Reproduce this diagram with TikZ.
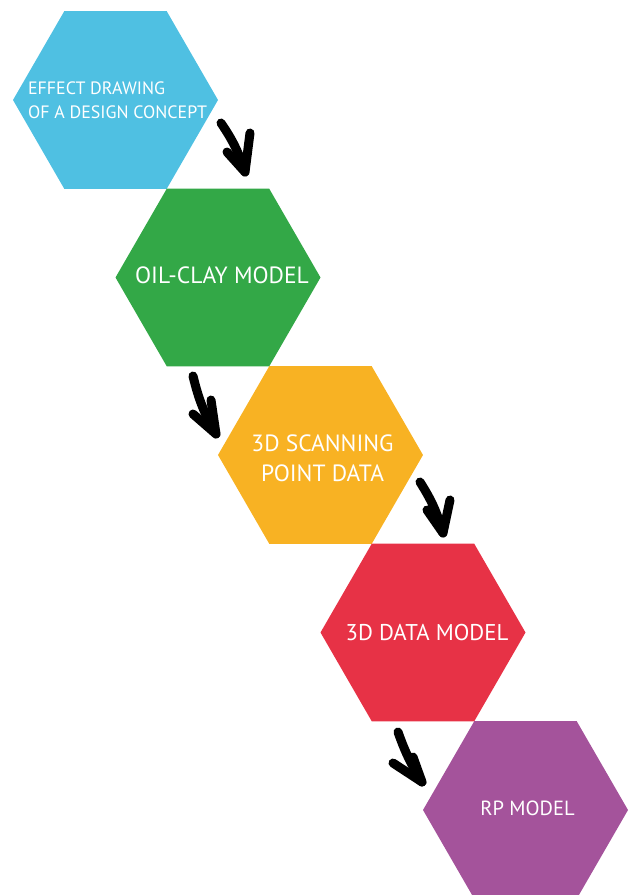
\documentclass[tikz,border=0pt]{standalone}
\usepackage{fontspec}
\setmainfont{PT Sans}
\usetikzlibrary{shapes.geometric}

\definecolor{conceptblue}{RGB}{79,192,226}
\definecolor{claygreen}{RGB}{51,168,71}
\definecolor{scanorange}{RGB}{248,178,35}
\definecolor{datared}{RGB}{231,50,70}
\definecolor{rppurple}{RGB}{164,83,155}

\begin{document}
\begin{tikzpicture}[x=1pt,y=1pt,
  hexa/.style={regular polygon,regular polygon sides=6,minimum size=205pt,inner sep=0pt},
  caption/.style={text=white,align=center,inner sep=0pt,font=\fontsize{23.5}{30}\selectfont},
  scrawl/.style={line width=9pt,line cap=round,line join=round,black}]
\useasboundingbox (0,0) rectangle (629,-895);

\node[hexa,fill=conceptblue] (effect) at (115.5,-100) {};
\node[hexa,fill=claygreen] (clay) at (218,-277.5) {};
\node[hexa,fill=scanorange] (scan) at (320.5,-455) {};
\node[hexa,fill=datared] (datamodel) at (423,-632.5) {};
\node[hexa,fill=rppurple] (rp) at (525.5,-810) {};

\node[caption,align=left,font=\fontsize{17.9}{23.5}\selectfont] (effecttext) at ([xshift=2pt]effect) {EFFECT DRAWING\\OF A DESIGN CONCEPT};
\node[caption] (claytext) at ([xshift=4pt,yshift=2pt]clay) {OIL-CLAY MODEL};
\node[caption] (scantext) at ([xshift=2pt,yshift=-3pt]scan) {3D SCANNING\\POINT DATA};
\node[caption,font=\fontsize{22.8}{30}\selectfont] (datatext) at ([xshift=4pt]datamodel) {3D DATA MODEL};
\node[caption,font=\fontsize{20.5}{30}\selectfont] (rptext) at ([xshift=2pt,yshift=2pt]rp) {RP MODEL};

% hand drawn arrows between the steps
\coordinate (a1tail) at (221,-123);
\coordinate (a1tip) at (245,-172);
\draw[scrawl] (a1tail) to[bend left=8] (a1tip);
\draw[scrawl] (227,-152) -- (a1tip) -- (250,-133);

\coordinate (a2tail) at (193,-376);
\coordinate (a2tip) at (216,-434);
\draw[scrawl] (a2tail) to[bend right=8] (a2tip);
\draw[scrawl] (193,-414) -- (a2tip) -- (211,-400);

\coordinate (a3tail) at (420,-482);
\coordinate (a3tip) at (443,-533);
\draw[scrawl] (a3tail) to[bend left=8] (a3tip);
\draw[scrawl] (427,-510) -- (a3tip) -- (450,-500);

\coordinate (a4tail) at (398,-732);
\coordinate (a4tip) at (422,-782);
\draw[scrawl] (a4tail) to[bend right=6] (a4tip);
\draw[scrawl] (393,-763) -- (a4tip) -- (413,-757);
\end{tikzpicture}
\end{document}
